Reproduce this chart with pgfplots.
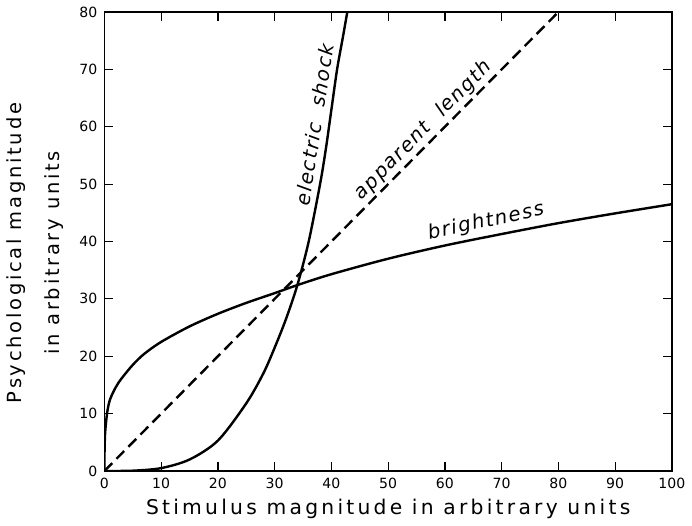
\documentclass[border=0pt]{standalone}
\usepackage{fontspec}
\setmainfont{DejaVu Sans}
\newfontfamily\lblfont[LetterSpace=14]{DejaVu Sans}
\newfontfamily\xlblfont[LetterSpace=16]{DejaVu Sans}
\newfontfamily\curvefont[LetterSpace=8]{DejaVu Sans}
\usepackage{pgfplots}
\pgfplotsset{compat=1.18}

\begin{document}
\begin{tikzpicture}
\begin{axis}[
    scale only axis,
    width=282.5pt, height=228.5pt,
    xmin=0, xmax=100, ymin=0, ymax=80,
    xtick distance=10, ytick distance=10,
    tick align=inside,
    major tick length=4.5pt,
    xticklabel pos=lower, yticklabel pos=left,
    axis line style={line width=0.7pt},
    tick style={line width=0.6pt, black},
    ticklabel style={font=\fontsize{7}{8}\selectfont},
    /pgf/number format/assume math mode=true,
    xlabel={Stimulus magnitude in arbitrary units},
    xlabel style={font=\xlblfont\fontsize{10.1}{11}\selectfont,
        at={(axis description cs:0.5,-0.083)}, anchor=center},
    ylabel={Psychological magnitude\\in arbitrary units},
    ylabel style={font=\lblfont\fontsize{9.7}{19}\selectfont, align=center,
        at={(axis description cs:-0.122,0.475)}, anchor=center},
]
% brightness
\addplot[black, line width=1.2pt, smooth, tension=0.5] coordinates {
    (0,0) (0.03,4) (0.15,7) (0.5,10.3) (1,12.5) (2,14.6) (3,16.1)
    (5,18.5) (7,20.4) (10,22.5) (15,25.2) (20,27.4) (25,29.3)
    (30,31) (34,32.4) (40,34.3) (50,37) (60,39.3) (70,41.3)
    (80,43.2) (90,44.9) (100,46.5)};
% electric shock
\addplot[black, line width=1.2pt, smooth] coordinates {
    (0,0) (5,0.05) (10,0.5) (15,2) (20,5.3) (25,11.8) (28,17)
    (30,21.5) (32,26.5) (34,32.4) (36,40) (38,50) (39,56)
    (40,63) (41,70) (42,75.5) (42.8,80)};
% apparent length
\addplot[black, line width=1.2pt, dash pattern=on 5.5pt off 3pt] coordinates {
    (0,0) (80,80)};

\node[rotate=81, anchor=south, inner sep=3pt,
      font=\curvefont\itshape\fontsize{9.8}{11}\selectfont]
    at (axis cs:39.5,60) {electric\ \ shock};
\node[rotate=45.5, anchor=south, inner sep=1.5pt,
      font=\curvefont\itshape\fontsize{9.8}{11}\selectfont]
    at (axis cs:57.8,57.8) {apparent\ \ length};
\node[rotate=12, anchor=south, inner sep=2.5pt,
      font=\curvefont\itshape\fontsize{9.8}{11}\selectfont]
    at (axis cs:67.8,40.9) {brightness};
\end{axis}
\end{tikzpicture}
\end{document}
